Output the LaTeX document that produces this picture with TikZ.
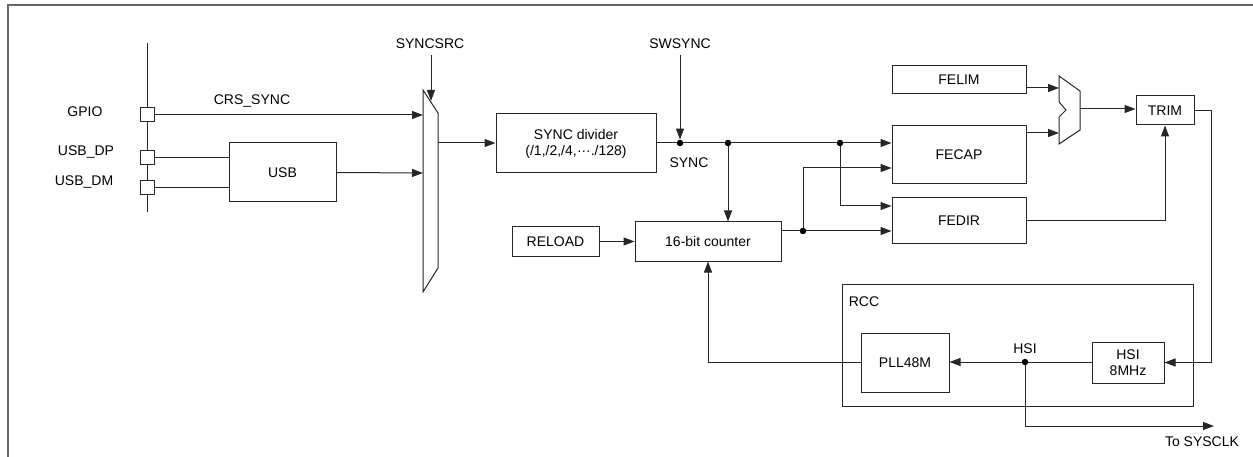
\documentclass[tikz,border=0pt]{standalone}
\usepackage{fontspec}
\setmainfont{Liberation Sans}
\usetikzlibrary{arrows.meta,positioning}
\begin{document}
\begin{tikzpicture}[x=1pt,y=-1pt,
  every node/.style={font=\fontsize{14}{16}\selectfont},
  blk/.style={draw=black!85,line width=1pt,fill=white,inner sep=0pt,align=center},
  pad/.style={draw=black!85,line width=1pt,fill=white,minimum width=14pt,minimum height=14pt,inner sep=0pt},
  wire/.style={draw=black!85,line width=1pt},
  arr/.style={wire,-{Triangle[length=11pt,width=8pt]}},
  dotn/.style={circle,fill=black,inner sep=0pt,minimum size=6.5pt},
  lbl/.style={inner sep=0pt}
]
\useasboundingbox (0,0) rectangle (1253,457);
% outer frame
\draw[draw=black!60,line width=1.4pt] (8,457) -- (8,5) -- (1253,5);

% bus line and pads
\draw[wire] (147,43) -- (147,212);
\node[pad] (pGPIO) at (147,115) {};
\node[pad] (pDP) at (147,158) {};
\node[pad] (pDM) at (147,188) {};
\node[lbl] (lGPIO) at (85,112) {GPIO};
\node[lbl] (lDP) at (86,152) {USB\_DP};
\node[lbl] (lDM) at (84,182) {USB\_DM};

% USB block
\node[blk,minimum width=107pt,minimum height=59pt] (usb) at (282.5,172.5) {USB};

% SYNCSRC mux
\draw[draw=black!85,line width=1pt,fill=white] (423,90) -- (438,113) -- (438,268) -- (423,292) -- cycle;
\coordinate (m1a) at (423,115);
\coordinate (m1b) at (423,173);
\coordinate (m1o) at (438,143);
\coordinate (m1s) at (431,101);
\node[lbl] (lsyncsrc) at (430,44) {SYNCSRC};
\coordinate (m1top) at (431,55);

% SYNC divider
\node[blk,minimum width=160pt,minimum height=59pt] (sdiv) at (576,143.5) {SYNC divider\\(/1,/2,/4,\raisebox{0.35ex}{…}.{}/128)};

% RELOAD and counter
\node[blk,minimum width=87pt,minimum height=29pt] (reload) at (555.5,241.5) {RELOAD};
\node[blk,minimum width=146pt,minimum height=39pt] (cnt) at (708,241.5) {16-bit counter};

% FE blocks
\node[blk,minimum width=134pt,minimum height=28pt] (felim) at (959,80) {FELIM};
\node[blk,minimum width=134pt,minimum height=58pt] (fecap) at (959,155) {FECAP};
\node[blk,minimum width=134pt,minimum height=46pt] (fedir) at (959,221) {FEDIR};

% small mux
\draw[draw=black!85,line width=1pt,fill=white] (1059,76) -- (1080,91) -- (1080,130) -- (1059,144) -- (1059,117) -- (1066,110) -- (1059,102) -- cycle;
\coordinate (m2a) at (1059,88);
\coordinate (m2b) at (1059,133);
\coordinate (m2o) at (1080,109);

% TRIM
\node[blk,minimum width=58pt,minimum height=29pt] (trim) at (1165,110.5) {TRIM};

% RCC
\node[draw=black!85,line width=1pt,minimum width=351pt,minimum height=122pt,inner sep=0pt] (rcc) at (1017.5,345) {};
\node[lbl] (lrcc) at (864,302) {RCC};
\node[blk,minimum width=88pt,minimum height=59pt] (pll) at (905,362.5) {PLL48M};
\node[blk,minimum width=72pt,minimum height=41pt] (hsi) at (1128,362.5) {HSI\\8MHz};

% dots
\node[dotn] (d1) at (680,143) {};
\node[dotn] (d2) at (728,143) {};
\node[dotn] (d3) at (840,143) {};
\node[dotn] (d4) at (803,231) {};
\node[dotn] (d5) at (1025,362) {};

% labels
\node[lbl] (lcrs) at (252,101) {CRS\_SYNC};
\node[lbl] (lswsync) at (680,44) {SWSYNC};
\coordinate (swtop) at (680,55);
\node[lbl] (lsync) at (689,163) {SYNC};
\node[lbl] (lhsi) at (1025,349) {HSI};
\node[lbl] (lsys) at (1202,442) {To SYSCLK};
\coordinate (sysend) at (1214,426);

% connectors
\draw[arr] (pGPIO.east) -- (m1a);
\draw[wire] (pDP.east) -- (usb.west |- pDP);
\draw[wire] (pDM.east) -- (usb.west |- pDM);
\draw[arr] (usb.east) -- (m1b);
\draw[arr] (m1top) -- (m1s);
\draw[arr] (m1o) -- (m1o -| sdiv.west);
\draw[wire] (sdiv.east |- d1) -- (d1) -- (d2) -- (d3);
\draw[arr] (d3) -- (fecap.west |- d3);
\draw[arr] (swtop) -- (d1);
\draw[arr] (d2) -- (d2 |- cnt.north);
\draw[arr] (d3) |- (fecap.west |- 0,206);
\draw[arr] (reload.east) -- (cnt.west);
\draw[wire] (cnt.east |- d4) -- (d4);
\draw[arr] (d4) -- (fedir.west |- d4);
\draw[arr] (d4) |- (fecap.west |- 0,168);
\draw[arr] (felim.east |- m2a) -- (m2a);
\draw[arr] (fecap.east |- m2b) -- (m2b);
\draw[arr] (m2o) -- (m2o -| trim.west);
\draw[arr] (fedir.east) -| (trim.south);
\draw[arr] (trim.east) -- ++(17,0) |- (hsi.east);
\draw[wire] (hsi.west |- d5) -- (d5);
\draw[arr] (d5) -- (d5 -| pll.east);
\draw[arr] (d5) |- (sysend);
\draw[arr] (pll.west |- d5) -| (cnt.south);
\end{tikzpicture}
\end{document}
